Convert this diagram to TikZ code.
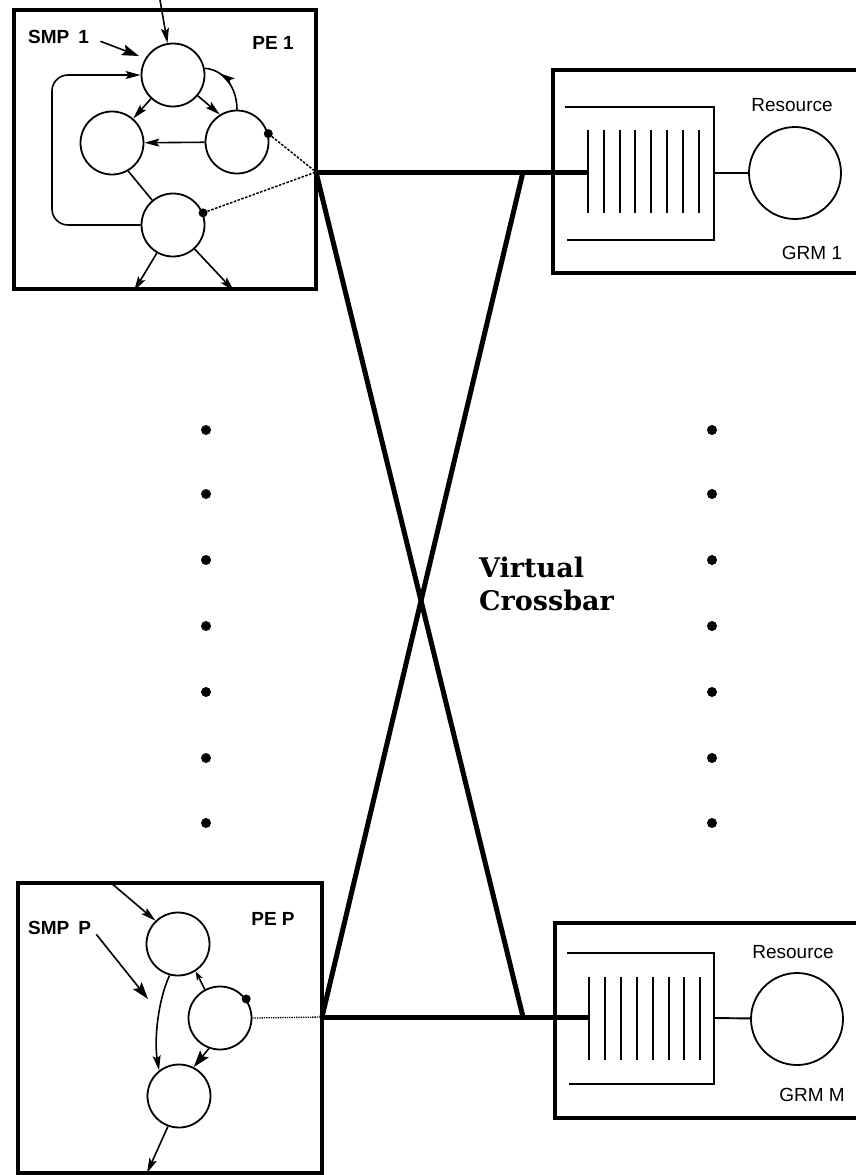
\documentclass[tikz,border=0pt]{standalone}
\usepackage{fontspec}
\setmainfont{Liberation Sans}
\newfontfamily\slabfont{DejaVu Serif}
\usetikzlibrary{arrows.meta,decorations.markings}
\begin{document}
\begin{tikzpicture}[x=1pt,y=-1pt,
  frame/.style={line width=4.5pt},
  bus/.style={line width=5pt},
  proc/.style={circle, draw, line width=1.8pt, minimum size=63pt, inner sep=0pt},
  resource/.style={circle, draw, line width=1.8pt, minimum size=92pt, inner sep=0pt},
  flow/.style={line width=1.6pt, -{Stealth[length=15pt,width=8pt,inset=3pt]}},
  shortflow/.style={line width=1.6pt, -{Stealth[length=9pt,width=6pt,inset=2pt]}},
  bigflow/.style={line width=1.6pt, -{Stealth[length=17pt,width=11pt,inset=3pt]}},
  dashlink/.style={line width=1.5pt, dash pattern=on 2.5pt off 1.5pt},
  dotlink/.style={line width=1.3pt, densely dotted},
  plain/.style={line width=1.6pt},
  qline/.style={line width=1.9pt},
  tapdot/.style={circle, fill, inner sep=0pt, minimum size=9pt},
  sepdot/.style={circle, fill, inner sep=0pt, minimum size=10pt},
  petext/.style={font=\bfseries\fontsize{19}{21}\selectfont, inner sep=0pt},
  rtext/.style={font=\fontsize{19}{21}\selectfont, inner sep=0pt},
  midarrow/.style={postaction={decorate}, decoration={markings,
      mark=at position 0.72 with {\arrow{Stealth[length=15pt,width=8pt,inset=3pt]}}}}
]
\useasboundingbox (0,0) rectangle (856,1175);
\clip (0,0) rectangle (856,1175);

% ---------- crossbar junctions ----------
\coordinate (j1) at (316,172);
\coordinate (jP) at (322,1017);
\coordinate (x1) at (523,172);
\coordinate (xM) at (523,1017);
\coordinate (q1) at (588,172);
\coordinate (qM) at (589,1017);

\draw[bus] (j1) -- (q1);
\draw[bus] (jP) -- (qM);
\draw[bus] (j1) -- (xM);
\draw[bus] (x1) -- (jP);

% ---------- PE 1 ----------
\draw[frame] (14,10) rectangle (316,289);
\node[proc] (t1) at (173,75) {};
\node[proc] (l1) at (112,143) {};
\node[proc] (r1) at (237,142) {};
\node[proc] (b1) at (173,225) {};

\coordinate (in1) at (160,0);
\draw[flow] (in1) -- (t1);

\node[petext, anchor=west] (smp1) at (28,37) {SMP\hspace{9pt}1};
\coordinate (smp1tip) at (139,56);
\draw[bigflow, shorten <=12pt] (smp1.east) -- (smp1tip);
\node[petext] (pe1) at (273,43) {PE 1};

\draw[flow, rounded corners=16pt] (b1.west) -- (52,225) -- (52,75) -- (t1.west);
\draw[flow] (t1.227) -- (l1.49);
\draw[flow] (t1.320) -- (r1.122);
\draw[plain, midarrow] (r1.90) .. controls (237,90) and (226,70) .. (t1.12);
\draw[flow] (r1) -- (l1);
\draw[plain] (l1.-60) -- (b1.130);

\coordinate (o1a) at (134,291);
\coordinate (o1b) at (234,291);
\draw[flow] (b1.240) -- (o1a);
\draw[flow] (b1.-48) -- (o1b);

\node[tapdot] (d1) at (r1.15) {};
\node[tapdot] (d2) at (b1.22) {};
\draw[dashlink] (d1) -- (j1);
\draw[dashlink] (d2) -- (j1);

% ---------- PE P ----------
\draw[frame] (18,883) rectangle (322,1173);
\node[proc] (tp) at (178,944) {};
\node[proc] (mp) at (220,1018) {};
\node[proc] (bp) at (179,1096) {};

\coordinate (inP) at (110,882);
\draw[flow] (inP) -- (tp.134);

\node[petext, anchor=west] (smpP) at (28,928) {SMP\hspace{9pt}P};
\coordinate (smpPtip) at (148,999);
\draw[bigflow, shorten <=8pt] (smpP.east) -- (smpPtip);
\node[petext] (peP) at (273,919) {PE P};

\draw[shortflow] (mp.118) -- (tp.-57);
\draw[flow] (tp.-105) .. controls (158,1000) and (154,1040) .. (bp.128);
\draw[bigflow] (mp.250) -- (bp.63);
\coordinate (oP) at (147,1173);
\draw[flow] (bp.-110) -- (oP);

\node[tapdot] (d3) at (mp.36) {};
\draw[dotlink] (mp.east) -- (jP);

% ---------- GRM 1 ----------
\draw[frame] (870,70) -- (553,70) -- (553,273) -- (870,273);
\draw[qline] (565,107) -- (714,107) -- (714,240) -- (567,240);
\foreach \x in {588,604,620,635,651,667,683,699}
  \draw[qline] (\x,130) -- (\x,213);
\node[resource] (res1) at (795,173) {};
\coordinate (qo1) at (714,173);
\draw[qline] (qo1) -- (res1);
\node[rtext] (rl1) at (792,105) {Resource};
\node[rtext] (g1) at (812,253) {GRM 1};

% ---------- GRM M ----------
\draw[frame] (870,923) -- (555,923) -- (555,1118) -- (870,1118);
\draw[qline] (567,953) -- (714,953) -- (714,1084) -- (569,1084);
\foreach \x in {589,605,621,637,653,669,684,700}
  \draw[qline] (\x,977) -- (\x,1060);
\node[resource] (resM) at (797,1019) {};
\coordinate (qoM) at (714,1018);
\draw[qline] (qoM) -- (resM);
\node[rtext] (rlM) at (793,952) {Resource};
\node[rtext] (gM) at (812,1095) {GRM M};

% ---------- ellipsis columns ----------
\foreach \y [count=\i] in {430,494,560,626,692,758,823} {
  \node[sepdot] (ldot\i) at (206,\y) {};
  \node[sepdot] (rdot\i) at (712,\y) {};
}

% ---------- caption ----------
\node[font=\slabfont\bfseries\fontsize{27}{33}\selectfont, align=left, anchor=west, inner sep=0pt]
  (vc) at (479,584) {Virtual\\Crossbar};

\end{tikzpicture}
\end{document}
